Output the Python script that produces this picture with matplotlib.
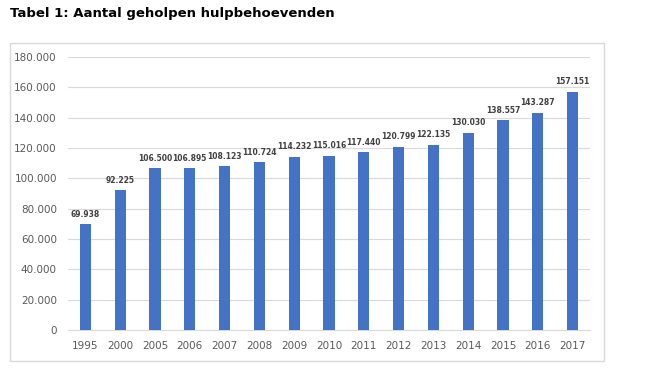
import matplotlib
matplotlib.use('Agg')
from matplotlib import pyplot as plt
from matplotlib.patches import Rectangle
import numpy as np

# Jaren en aantallen
jaren = ['1995', '2000', '2005', '2006', '2007', '2008', '2009', '2010',
         '2011', '2012', '2013', '2014', '2015', '2016', '2017']
aantal = [69938, 92225, 106500, 106895, 108123, 110724, 114232, 115016,
          117440, 120799, 122135, 130030, 138557, 143287, 157151]


def punt(v):
    # duizendtal met punt
    return '{:,}'.format(v).replace(',', '.')


W, H = 649, 373
fig = plt.figure(figsize=(W / 100, H / 100), dpi=100)

# kader rond de grafiek
fig.patches.append(Rectangle((10 / W, 1 - 361 / H), 594 / W, 318 / H,
                             transform=fig.transFigure, fill=False,
                             edgecolor='#d9d9d9', linewidth=1))

fig.text(10 / W, 1 - 14 / H, 'Tabel 1: Aantal geholpen hulpbehoevenden',
         fontsize=9.5, fontweight='bold', va='center', ha='left',
         family='DejaVu Sans', color='black')

ax = fig.add_axes([68 / W, 1 - 330 / H, 522 / W, 273 / H])
x = np.arange(len(jaren))
ax.bar(x, aantal, width=0.32, color='#4472c4', zorder=3)

for xi, v in zip(x, aantal):
    ax.text(xi, v + 3500, punt(v), ha='center', va='bottom',
            fontsize=5.5, fontweight='bold', color='#404040')

ax.set_xlim(-0.5, len(jaren) - 0.5)
ax.set_ylim(0, 180000)
ax.set_yticks(np.arange(0, 180001, 20000))
ax.set_yticklabels([punt(t) for t in np.arange(0, 180001, 20000)])
ax.set_xticks(x)
ax.set_xticklabels(jaren)
ax.tick_params(axis='both', length=0, labelsize=7.5, colors='#595959')
ax.tick_params(axis='x', pad=8)
ax.tick_params(axis='y', pad=8)
ax.grid(axis='y', color='#d9d9d9', linewidth=0.8, zorder=0)
for s in ['top', 'right', 'left']:
    ax.spines[s].set_visible(False)
ax.spines['bottom'].set_color('#d9d9d9')

plt.savefig('out.png', dpi=100)
